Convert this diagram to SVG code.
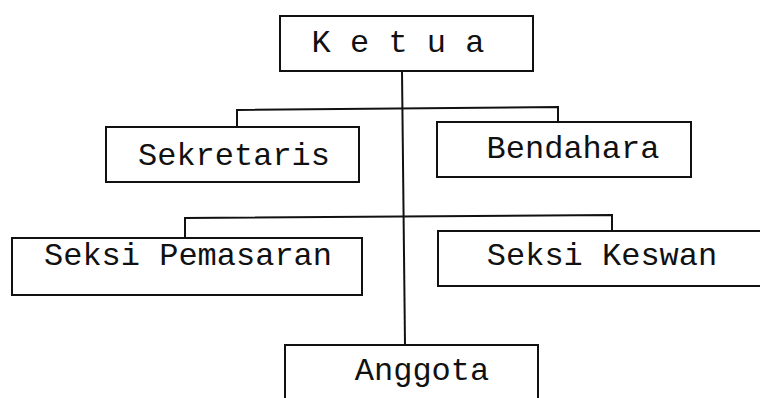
<svg xmlns="http://www.w3.org/2000/svg" width="760" height="398" viewBox="0 0 760 398">
<style>
.box{fill:#fff;stroke:#111;stroke-width:2}
.lbl{font-family:"Liberation Mono","Courier New",monospace;font-size:32px;fill:#111;text-anchor:middle}
.ln{fill:none;stroke:#111;stroke-width:2}
</style>
<rect width="760" height="398" fill="#fff"/>
<g id="connectors">
<path class="ln" d="M402,71 L405,345"/>
<path class="ln" d="M237,127 L237,110 L558,107 L558,122"/>
<path class="ln" d="M185,238 L185,218 L612,215 L612,231"/>
</g>
<g id="ketua">
<rect class="box" x="280" y="16" width="253" height="55"/>
<text class="lbl" x="398" y="52">K e t u a</text>
</g>
<g id="sekretaris">
<rect class="box" x="106" y="127" width="253" height="55"/>
<text class="lbl" x="234" y="165">Sekretaris</text>
</g>
<g id="bendahara">
<rect class="box" x="437" y="122" width="254" height="55"/>
<text class="lbl" x="573" y="158">Bendahara</text>
</g>
<g id="seksi-pemasaran">
<rect class="box" x="12" y="238" width="350" height="57"/>
<text class="lbl" x="188" y="265">Seksi Pemasaran</text>
</g>
<g id="seksi-keswan">
<rect class="box" x="438" y="231" width="330" height="55"/>
<text class="lbl" x="602" y="265">Seksi Keswan</text>
</g>
<g id="anggota">
<rect class="box" x="285" y="345" width="253" height="70"/>
<text class="lbl" x="422" y="380">Anggota</text>
</g>
</svg>
